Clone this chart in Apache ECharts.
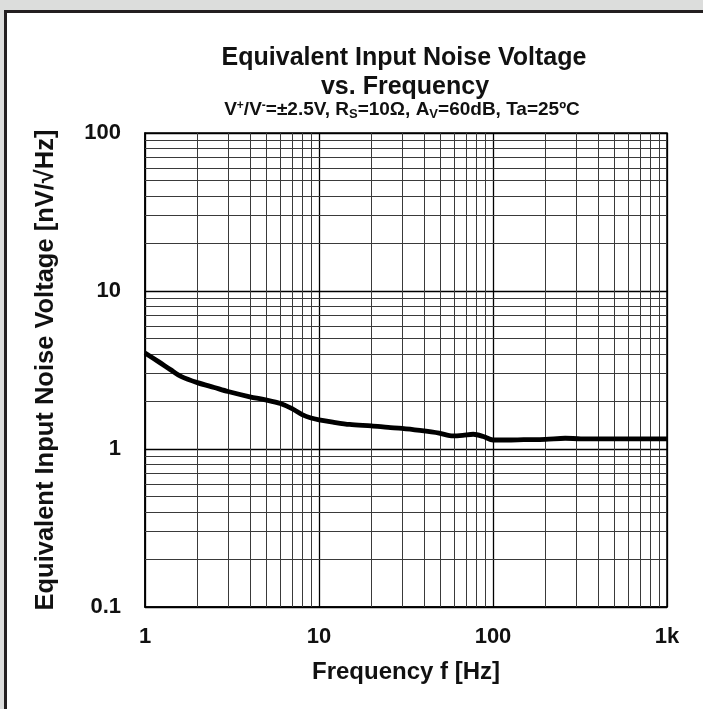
<!DOCTYPE html>
<html>
<head>
<meta charset="utf-8">
<script src="https://cdn.jsdelivr.net/npm/echarts@6/dist/echarts.min.js"></script>
<style>html,body{margin:0;padding:0;background:#dcdddc;}#c{width:703px;height:709px;}</style>
</head>
<body>
<div id="c"></div>
<script>
// Frequency [Hz]
const freq = [1, 1.2, 1.4, 1.62, 2, 2.5, 3, 4, 5, 6, 7, 8, 9, 10, 12, 15, 20, 25, 30, 38, 49, 59, 67, 77, 88, 100, 120, 150, 200, 260, 320, 430, 600, 800, 1000];
// Equivalent input noise voltage [nV/rtHz]
const noise = [4.05, 3.56, 3.18, 2.87, 2.63, 2.45, 2.31, 2.14, 2.04, 1.94, 1.80, 1.65, 1.57, 1.53, 1.48, 1.43, 1.40, 1.37, 1.35, 1.31, 1.26, 1.21, 1.22, 1.24, 1.20, 1.14, 1.14, 1.145, 1.15, 1.17, 1.16, 1.16, 1.16, 1.16, 1.16];
// minor grid positions
const xMinor = [2,3,4,5,6,7,8,9,20,30,40,50,60,70,80,90,200,300,400,500,600,700,800,900];
const yMinor = [0.2,0.3,0.4,0.5,0.6,0.7,0.8,0.9,2,3,4,5,6,7,8,9,20,30,40,50,60,70,80,90];
const xTickLabels = {1:'1', 10:'10', 100:'100', 1000:'1k'};

const chart = echarts.init(document.getElementById('c'), null, {renderer:'canvas'});
const FONT = 'Arial, "Liberation Sans", Helvetica, sans-serif';

const minorLines = xMinor.map(v => ({xAxis: v})).concat(yMinor.map(v => ({yAxis: v})));

chart.setOption({
  backgroundColor: '#dcdddc',
  animation: false,
  graphic: [
    {type:'rect', z:-10, silent:true, shape:{x:5.5, y:11.5, width:800, height:800},
     style:{fill:'#ffffff', stroke:'#231f20', lineWidth:3}},
    {type:'text', z:10, x:404, y:58, style:{text:'Equivalent Input Noise Voltage', font:'bold 25px ' + FONT, fill:'#111', align:'center', verticalAlign:'middle'}},
    {type:'text', z:10, x:405, y:87, style:{text:'vs. Frequency', font:'bold 25px ' + FONT, fill:'#111', align:'center', verticalAlign:'middle'}},
    {type:'text', z:10, x:402, y:110, style:{
      text:'{m|V}{s|+}{m|/V}{s|-}{m|=±2.5V, R}{b|S}{m|=10Ω, A}{b|V}{m|=60dB, Ta=25ºC}',
      align:'center', verticalAlign:'middle', fill:'#111',
      rich:{
        m:{fontSize:19, fontWeight:'bold', fontFamily:FONT, lineHeight:21, fill:'#111', verticalAlign:'middle'},
        s:{fontSize:12, fontWeight:'bold', fontFamily:FONT, lineHeight:21, fill:'#111', verticalAlign:'top'},
        b:{fontSize:13, fontWeight:'bold', fontFamily:FONT, lineHeight:21, fill:'#111', verticalAlign:'bottom'}
      }}}
  ],
  grid: {left:145, right:36, top:133, bottom:102, show:true, borderColor:'#000', borderWidth:1.5, backgroundColor:'transparent'},
  xAxis: {
    type:'log', logBase:10, min:1, max:1000,
    name:'Frequency f [Hz]', nameLocation:'middle', nameGap:53,
    nameTextStyle:{fontSize:24, fontWeight:'bold', fontFamily:FONT, color:'#111'},
    axisLine:{show:true, lineStyle:{color:'#000', width:1.5}},
    axisTick:{show:false},
    axisLabel:{fontSize:22, fontWeight:'bold', fontFamily:FONT, color:'#111', margin:19,
      formatter: v => xTickLabels[Math.round(v)] || ''},
    splitLine:{show:true, lineStyle:{color:'#000', width:1.3}},
    minorTick:{show:false}, minorSplitLine:{show:false}
  },
  yAxis: {
    type:'log', logBase:10, min:0.1, max:100,
    name:'Equivalent Input Noise Voltage [nV/√Hz]', nameLocation:'middle', nameGap:86, nameRotate:90,
    nameTextStyle:{fontSize:25.5, fontWeight:'bold', fontFamily:FONT, color:'#111'},
    axisLine:{show:true, lineStyle:{color:'#000', width:1.5}},
    axisTick:{show:false},
    axisLabel:{fontSize:22, fontWeight:'bold', fontFamily:FONT, color:'#111', margin:24,
      formatter: v => (v < 1 ? v.toFixed(1) : String(Math.round(v)))},
    splitLine:{show:true, lineStyle:{color:'#000', width:1.3}},
    minorTick:{show:false}, minorSplitLine:{show:false}
  },
  series: [
    {
      type:'line', z:1, data:[], silent:true,
      markLine:{silent:true, symbol:['none','none'], label:{show:false}, animation:false,
        lineStyle:{color:'#3a3a3a', width:1, type:'solid'}, emphasis:{disabled:true},
        data: minorLines}
    },
    {
      type:'line', z:5, smooth:0.3, showSymbol:false, symbol:'none',
      lineStyle:{color:'#000', width:4.8},
      data: freq.map((f, i) => [f, noise[i]])
    }
  ]
});
</script>
</body>
</html>
